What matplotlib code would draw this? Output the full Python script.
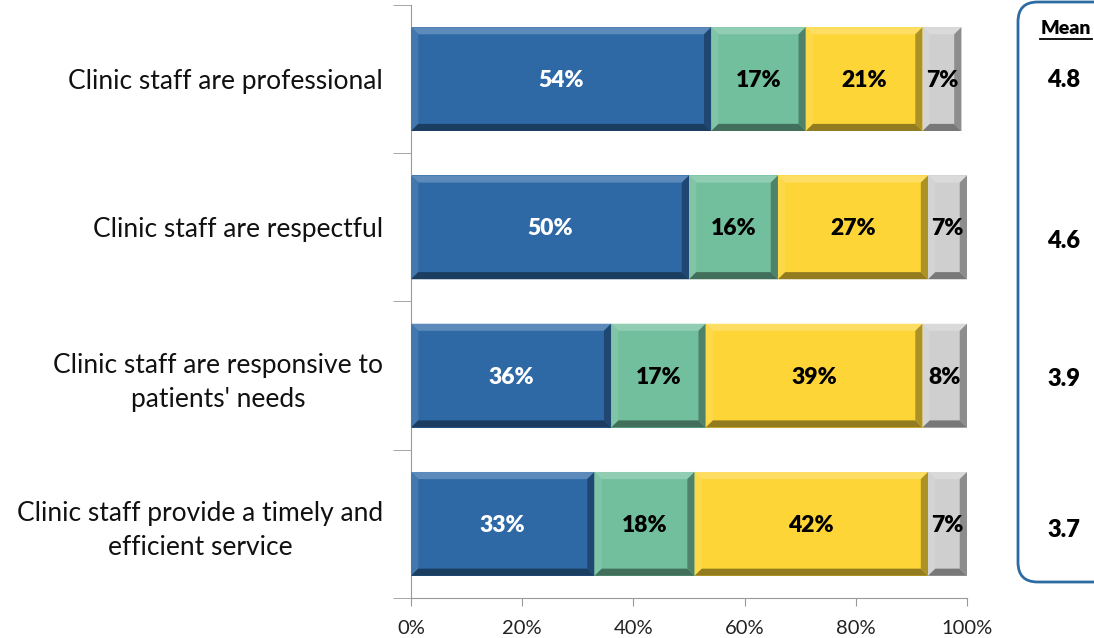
import numpy as np
import matplotlib.pyplot as plt
from matplotlib.patches import Polygon, FancyBboxPatch
from matplotlib.lines import Line2D
from matplotlib.colors import to_rgb

plt.rcParams['font.family'] = ['Lato', 'DejaVu Sans']

statements = ["Clinic staff are professional",
              "Clinic staff are respectful",
              "Clinic staff are responsive to\npatients' needs",
              "Clinic staff provide a timely and\nefficient service"]
strongly_agree = [54, 50, 36, 33]
agree = [17, 16, 17, 18]
neutral_disagree = [21, 27, 39, 42]
dont_know = [7, 7, 8, 7]
means = [4.8, 4.6, 3.9, 3.7]

series = [strongly_agree, agree, neutral_disagree, dont_know]
colors = ['#2E69A6', '#72BF9D', '#FDD536', '#CFCFCF']
text_colors = ['white', 'black', 'black', 'black']

def mix(c, other, t):
    c = np.array(to_rgb(c))
    return tuple(c + (np.array(other) - c) * t)

fig = plt.figure(figsize=(10.94, 6.38), dpi=100)
ax = fig.add_axes([0.3757, 0.0627, 0.5082, 0.9295])

y = np.arange(len(statements))
h = 0.70
bx = 1.3   # bevel width in x units
by = 0.048  # bevel width in y units

left = np.zeros(len(statements))
for vals, col, tc in zip(series, colors, text_colors):
    vals = np.array(vals, dtype=float)
    ax.barh(y, vals, left=left, height=h, color=col, edgecolor='none', zorder=2)
    light = mix(col, (1, 1, 1), 0.22)
    lighter = mix(col, (1, 1, 1), 0.10)
    dark = mix(col, (0, 0, 0), 0.32)
    darker = mix(col, (0, 0, 0), 0.42)
    for yi, x0, v in zip(y, left, vals):
        x1 = x0 + v
        yt, yb = yi - h / 2, yi + h / 2
        ax.add_patch(Polygon([(x0, yt), (x1, yt), (x1 - bx, yt + by), (x0 + bx, yt + by)],
                             closed=True, color=light, lw=0, zorder=3))
        ax.add_patch(Polygon([(x0, yt), (x0 + bx, yt + by), (x0 + bx, yb - by), (x0, yb)],
                             closed=True, color=lighter, lw=0, zorder=3))
        ax.add_patch(Polygon([(x0, yb), (x1, yb), (x1 - bx, yb - by), (x0 + bx, yb - by)],
                             closed=True, color=darker, lw=0, zorder=3))
        ax.add_patch(Polygon([(x1, yt), (x1, yb), (x1 - bx, yb - by), (x1 - bx, yt + by)],
                             closed=True, color=dark, lw=0, zorder=3))
        ax.text(x0 + v / 2, yi + 0.01, f"{v:.0f}%", ha='center', va='center',
                color=tc, fontsize=16.5, fontweight='heavy', zorder=4)
    left += vals

ax.set_xlim(0, 100)
ax.set_ylim(3.5, -0.5)
ax.set_xticks(np.arange(0, 101, 20))
ax.set_xticklabels([f"{t}%" for t in range(0, 101, 20)], fontsize=14.5, color='#222222')
ax.set_yticks(y)
ax.set_yticklabels(statements, fontsize=19, color='#111111',
                   multialignment='center', linespacing=1.45)
ax.set_yticks(np.arange(-0.5, 4, 1), minor=True)
ax.tick_params(axis='y', which='major', length=0, pad=20)
ax.tick_params(axis='y', which='minor', length=13, color='#999999', direction='out')
ax.tick_params(axis='x', length=6, color='#999999', pad=10)
for s in ['top', 'right']:
    ax.spines[s].set_visible(False)
for s in ['left', 'bottom']:
    ax.spines[s].set_color('#999999')

# mean score panel
box = FancyBboxPatch((1018 / 1094, 56 / 638), 0.2, 580 / 638,
                     boxstyle="round,pad=0,rounding_size=0.018",
                     transform=fig.transFigure, fill=False,
                     edgecolor='#2F6BA3', lw=2, mutation_aspect=1094 / 638)
fig.patches.append(box)
fig.text(1066 / 1094, 1 - 28 / 638, "Mean", ha='center', va='center',
         fontsize=14, fontweight='heavy')
fig.add_artist(Line2D([1040 / 1094, 1092 / 1094], [1 - 39 / 638, 1 - 39 / 638],
                      transform=fig.transFigure, color='black', lw=1.3))
mean_rows_px = [80, 241, 379, 530]
for py, m in zip(mean_rows_px, means):
    fig.text(1064 / 1094, 1 - py / 638, f"{m:.1f}", ha='center', va='center',
             fontsize=17, fontweight='heavy')

fig.savefig('out.png', dpi=100)
